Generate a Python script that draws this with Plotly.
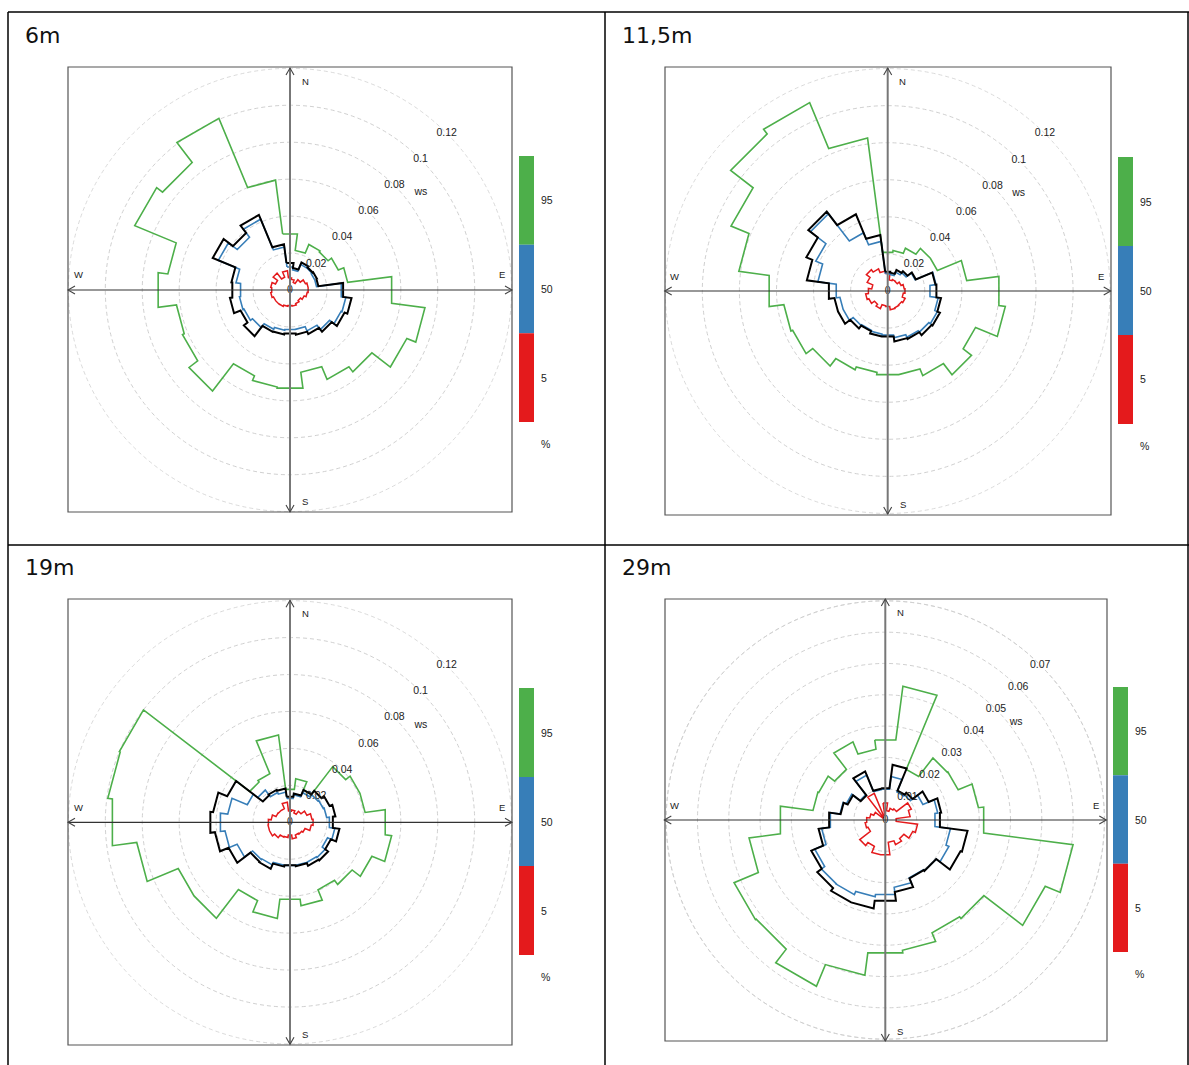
import plotly.graph_objects as go

W, H = 1189, 1065

# ---------------- data ----------------
SECTOR_CENTERS = list(range(0, 360, 15))  # wind direction sectors (deg)
SECTOR_WIDTH = 15
TITLES = ["6m", "11,5m", "19m", "29m"]
TICKS_A = [0.02, 0.04, 0.06, 0.08, 0.1, 0.12]
TICK_LABELS_A = ["0.02", "0.04", "0.06", "0.08", "0.1", "0.12"]
TICKS_B = [0.01, 0.02, 0.03, 0.04, 0.05, 0.06, 0.07]
TICK_LABELS_B = ["0.01", "0.02", "0.03", "0.04", "0.05", "0.06", "0.07"]
LEVEL_LABELS = ["95", "50", "5"]
UNIT_LABEL = "%"
AXIS_VAR = "ws"
COMPASS = ["N", "E", "S", "W"]

# 6m
P95_6M = [0.0306, 0.0216, 0.0267, 0.026, 0.0283, 0.0315, 0.0555, 0.0737, 0.0685, 0.0559, 0.0524, 0.0449,
          0.0536, 0.053, 0.0503, 0.0689, 0.063, 0.062, 0.072, 0.0667, 0.091, 0.087, 0.1006, 0.060]
P50_6M = [0.0126, 0.011, 0.015, 0.015, 0.0145, 0.0145, 0.028, 0.0305, 0.030, 0.027, 0.024, 0.0215,
          0.0216, 0.022, 0.023, 0.0256, 0.027, 0.0276, 0.027, 0.0295, 0.042, 0.036, 0.0415, 0.0235]
P5_6M = [0.0065, 0.0058, 0.0045, 0.007, 0.009, 0.0099, 0.0099, 0.0094, 0.0083, 0.0072, 0.008, 0.0088,
         0.0085, 0.0089, 0.0096, 0.0097, 0.0097, 0.0105, 0.010, 0.0105, 0.0085, 0.0115, 0.0075, 0.0105]
MEAN_6M = [0.0148, 0.012, 0.0162, 0.0155, 0.0158, 0.0155, 0.029, 0.0336, 0.032, 0.0285, 0.0258, 0.0244,
           0.0238, 0.0243, 0.0245, 0.0315, 0.029, 0.0328, 0.0315, 0.032, 0.0453, 0.039, 0.044, 0.025]

# 11,5m
P95_11M = [0.021, 0.022, 0.025, 0.029, 0.029, 0.043, 0.0605, 0.064, 0.0513, 0.057, 0.0494, 0.0455,
           0.0455, 0.0443, 0.046, 0.051, 0.0555, 0.0565, 0.0645, 0.081, 0.0915, 0.1068, 0.110, 0.0832]
P50_11M = [0.0095, 0.009, 0.011, 0.0125, 0.016, 0.0263, 0.023, 0.0275, 0.029, 0.028, 0.027, 0.0255,
           0.024, 0.0235, 0.023, 0.0235, 0.026, 0.026, 0.028, 0.038, 0.042, 0.0525, 0.034, 0.027]
P5_11M = [0.0095, 0.006, 0.0067, 0.0065, 0.0078, 0.009, 0.0094, 0.0085, 0.0102, 0.0095, 0.0098, 0.0102,
          0.0085, 0.008, 0.0103, 0.009, 0.011, 0.012, 0.0105, 0.0087, 0.012, 0.0145, 0.0129, 0.0108]
MEAN_11M = [0.0105, 0.010, 0.0123, 0.0135, 0.0164, 0.026, 0.0265, 0.029, 0.0305, 0.030, 0.028, 0.0275,
            0.0248, 0.0248, 0.0235, 0.0255, 0.029, 0.029, 0.032, 0.044, 0.0475, 0.054, 0.0448, 0.0305]

# 19m
P95_19M = [0.018, 0.0238, 0.019, 0.038, 0.041, 0.041, 0.052, 0.0555, 0.048, 0.0424, 0.0396, 0.0456,
           0.042, 0.0525, 0.0459, 0.0655, 0.0655, 0.0837, 0.097, 0.0995, 0.100, 0.0275, 0.0285, 0.0477]
P50_19M = [0.013, 0.015, 0.0175, 0.019, 0.0195, 0.020, 0.0215, 0.0245, 0.022, 0.024, 0.0235, 0.0235,
           0.0235, 0.0235, 0.025, 0.0255, 0.031, 0.0355, 0.038, 0.034, 0.025, 0.022, 0.0175, 0.0165]
P5_19M = [0.006, 0.0068, 0.0055, 0.0075, 0.0099, 0.012, 0.0126, 0.0116, 0.0088, 0.008, 0.0075, 0.009,
          0.007, 0.0083, 0.0087, 0.0105, 0.012, 0.012, 0.0118, 0.0103, 0.0082, 0.008, 0.008, 0.011]
MEAN_19M = [0.014, 0.0157, 0.019, 0.0215, 0.0232, 0.0248, 0.0234, 0.027, 0.024, 0.026, 0.0255, 0.024,
            0.0234, 0.0242, 0.0273, 0.027, 0.036, 0.041, 0.0435, 0.042, 0.0368, 0.0185, 0.019, 0.0185]

# 29m
P95_29M = [0.0258, 0.0431, 0.0175, 0.025, 0.0252, 0.030, 0.0317, 0.0605, 0.0553, 0.0397, 0.039, 0.042,
           0.0428, 0.050, 0.0575, 0.052, 0.0523, 0.0439, 0.0338, 0.0233, 0.023, 0.0204, 0.027, 0.0228]
P50_29M = [0.0099, 0.014, 0.0097, 0.0101, 0.013, 0.0169, 0.016, 0.021, 0.022, 0.0205, 0.020, 0.0217,
           0.024, 0.0247, 0.0258, 0.0257, 0.0244, 0.0205, 0.0177, 0.0146, 0.0135, 0.0102, 0.0155, 0.0098]
P5_29M = [0.0055, 0.003, 0.004, 0.0045, 0.009, 0.008, 0.0035, 0.0104, 0.0095, 0.0075, 0.0085, 0.0072,
          0.0112, 0.0112, 0.0091, 0.0103, 0.006, 0.0065, 0.006, 0.005, 0.004, 0.001, 0.0092, 0.0015]
MEAN_29M = [0.0102, 0.0178, 0.0102, 0.011, 0.015, 0.018, 0.0176, 0.0265, 0.026, 0.0205, 0.0202, 0.0232,
            0.026, 0.0285, 0.0285, 0.0274, 0.0256, 0.0215, 0.0181, 0.0144, 0.013, 0.0099, 0.0168, 0.0101]

PANEL_DATA = [
    (P95_6M, P50_6M, P5_6M, MEAN_6M),
    (P95_11M, P50_11M, P5_11M, MEAN_11M),
    (P95_19M, P50_19M, P5_19M, MEAN_19M),
    (P95_29M, P50_29M, P5_29M, MEAN_29M),
]
PANEL_TICKS = [(TICKS_A, TICK_LABELS_A), (TICKS_A, TICK_LABELS_A),
               (TICKS_A, TICK_LABELS_A), (TICKS_B, TICK_LABELS_B)]

# ---------------- layout geometry (pixels) ----------------
GEOM = [
    dict(cx=290.0, cy=290.0, R=222.0, rmax=0.1202, cb=(519, 156, 422), tx=23, ty=35),
    dict(cx=887.7, cy=291.0, R=223.0, rmax=0.1203, cb=(1118, 157, 424), tx=620, ty=35),
    dict(cx=290.0, cy=822.3, R=222.0, rmax=0.1202, cb=(519, 688, 955), tx=23, ty=567),
    dict(cx=885.3, cy=820.0, R=221.0, rmax=0.0706, cb=(1113, 687, 952), tx=620, ty=567),
]
BOXES = [(68, 67, 512, 512), (665, 67, 1111, 515), (68, 599, 512, 1045), (665, 599, 1107, 1041)]

GREEN, BLUE, RED, BLACK = "#4DAF4A", "#377EB8", "#E41A1C", "#000000"
LINE_STYLES = [(GREEN, 1.6), (BLUE, 1.6), (RED, 1.5), (BLACK, 2.0)]
DRAW_ORDER = [0, 2, 1, 3]
GRID_COLOR = "#d0d0d0"
GRID_DASH = "4px,3px"


def px(x):
    return x / W


def py(y):
    return 1 - y / H


def stepped(vals):
    th, rr = [], []
    for c, v in zip(SECTOR_CENTERS, vals):
        th += [c - SECTOR_WIDTH / 2, c + SECTOR_WIDTH / 2]
        rr += [v, v]
    th.append(th[0])
    rr.append(rr[0])
    return rr, th


fig = go.Figure()
shapes = []
annotations = []
layout_polars = {}

for k in range(4):
    g = GEOM[k]
    name = "polar" if k == 0 else f"polar{k + 1}"
    cx, cy, R = g["cx"], g["cy"], g["R"]
    ticks, tlabels = PANEL_TICKS[k]
    layout_polars[name] = dict(
        domain=dict(x=[px(cx - R), px(cx + R)], y=[py(cy + R), py(cy - R)]),
        bgcolor="rgba(0,0,0,0)",
        radialaxis=dict(range=[0, g["rmax"]], tickvals=ticks, showticklabels=False, ticks="",
                        showline=False, showgrid=True, gridcolor=GRID_COLOR, gridwidth=0.8,
                        griddash=GRID_DASH, layer="below traces"),
        angularaxis=dict(direction="clockwise", rotation=90, showgrid=False, showline=False,
                         showticklabels=False, ticks=""),
    )
    # outermost ring (touching the frame) drawn explicitly
    r_out = ticks[-1] / g["rmax"] * R
    shapes.append(dict(type="circle", xref="paper", yref="paper", x0=px(cx - r_out), x1=px(cx + r_out),
                       y0=py(cy + r_out), y1=py(cy - r_out), line=dict(color=GRID_COLOR, width=0.8, dash=GRID_DASH),
                       layer="below"))

    data = PANEL_DATA[k]
    for idx in DRAW_ORDER:
        col, wdt = LINE_STYLES[idx]
        rr, th = stepped(data[idx])
        fig.add_trace(go.Scatterpolar(r=rr, theta=th, mode="lines", subplot=name,
                                      line=dict(color=col, width=wdt), hoverinfo="skip"))
    # radial tick labels along 45 degrees
    fig.add_trace(go.Scatterpolar(r=[0] + ticks, theta=[45] * (len(ticks) + 1), mode="text",
                                  text=["0"] + tlabels, subplot=name,
                                  textfont=dict(family="Liberation Sans, Arial", size=10.5, color="#222"),
                                  hoverinfo="skip"))
    # variable label
    ws_r = 163.0 / R * g["rmax"]
    fig.add_trace(go.Scatterpolar(r=[ws_r], theta=[53.4], mode="text", text=[AXIS_VAR], subplot=name,
                                  textfont=dict(family="Liberation Sans, Arial", size=10.5, color="#222"),
                                  hoverinfo="skip"))

    # frame box
    x0, y0, x1, y1 = BOXES[k]
    shapes.append(dict(type="rect", xref="paper", yref="paper", x0=px(x0), x1=px(x1), y0=py(y1), y1=py(y0),
                       line=dict(color="#555", width=1.2), layer="above"))
    # cross axes
    shapes.append(dict(type="line", xref="paper", yref="paper", x0=px(cx), x1=px(cx), y0=py(cy - R), y1=py(cy + R),
                       line=dict(color="#777", width=2), layer="above"))
    shapes.append(dict(type="line", xref="paper", yref="paper", x0=px(cx - R), x1=px(cx + R), y0=py(cy), y1=py(cy),
                       line=dict(color="#333", width=1.2), layer="above"))
    a, b = 4.0, 7.0
    chevrons = [
        [(cx - a, cy - R + b), (cx, cy - R), (cx + a, cy - R + b)],
        [(cx - a, cy + R - b), (cx, cy + R), (cx + a, cy + R - b)],
        [(cx - R + b, cy - a), (cx - R, cy), (cx - R + b, cy + a)],
        [(cx + R - b, cy - a), (cx + R, cy), (cx + R - b, cy + a)],
    ]
    for ch in chevrons:
        path = "M {} {} L {} {} L {} {}".format(px(ch[0][0]), py(ch[0][1]), px(ch[1][0]), py(ch[1][1]),
                                                px(ch[2][0]), py(ch[2][1]))
        shapes.append(dict(type="path", xref="paper", yref="paper", path=path,
                           line=dict(color="#444", width=1.1), layer="above"))
    # compass labels
    comp_pos = [(cx + 15, cy - R + 13), (cx + R - 10, cy - 15), (cx + 15, cy + R - 10), (cx - R + 10, cy - 15)]
    for lab, (lx, ly) in zip(COMPASS, comp_pos):
        annotations.append(dict(x=px(lx), y=py(ly), xref="paper", yref="paper", text=lab, showarrow=False,
                                font=dict(family="Liberation Sans, Arial", size=9.5, color="#222"),
                                xanchor="center", yanchor="middle"))
    # colour key
    cbx, cby0, cby1 = g["cb"]
    hseg = (cby1 - cby0) / 3.0
    for j, col in enumerate([GREEN, BLUE, RED]):
        shapes.append(dict(type="rect", xref="paper", yref="paper", x0=px(cbx), x1=px(cbx + 15),
                           y0=py(cby0 + (j + 1) * hseg), y1=py(cby0 + j * hseg),
                           fillcolor=col, line=dict(width=0)))
        annotations.append(dict(x=px(cbx + 20), y=py(cby0 + (j + 0.5) * hseg), xref="paper", yref="paper",
                                text=LEVEL_LABELS[j], showarrow=False, xanchor="left", yanchor="middle",
                                font=dict(family="Liberation Sans, Arial", size=10.5, color="#222")))
    annotations.append(dict(x=px(cbx + 20), y=py(cby1 + 22), xref="paper", yref="paper", text=UNIT_LABEL,
                            showarrow=False, xanchor="left", yanchor="middle",
                            font=dict(family="Liberation Sans, Arial", size=10.5, color="#222")))
    # panel title
    annotations.append(dict(x=px(g["tx"]), y=py(g["ty"]), xref="paper", yref="paper", text=TITLES[k],
                            showarrow=False, xanchor="left", yanchor="middle",
                            font=dict(family="DejaVu Sans, Verdana", size=22, color="#111")))

# table grid lines
for (xa, ya, xb, yb) in [(8, 12, 1189, 12), (8, 12, 8, 1065), (605, 12, 605, 1065), (8, 545, 1189, 545),
                         (1188, 12, 1188, 1065)]:
    shapes.append(dict(type="line", xref="paper", yref="paper", x0=px(xa), x1=px(xb), y0=py(ya), y1=py(yb),
                       line=dict(color="#000", width=1.5), layer="above"))

fig.update_layout(width=W, height=H, margin=dict(l=0, r=0, t=0, b=0), paper_bgcolor="white",
                  plot_bgcolor="white", showlegend=False, shapes=shapes, annotations=annotations,
                  **layout_polars)

fig.write_html("out.html")
